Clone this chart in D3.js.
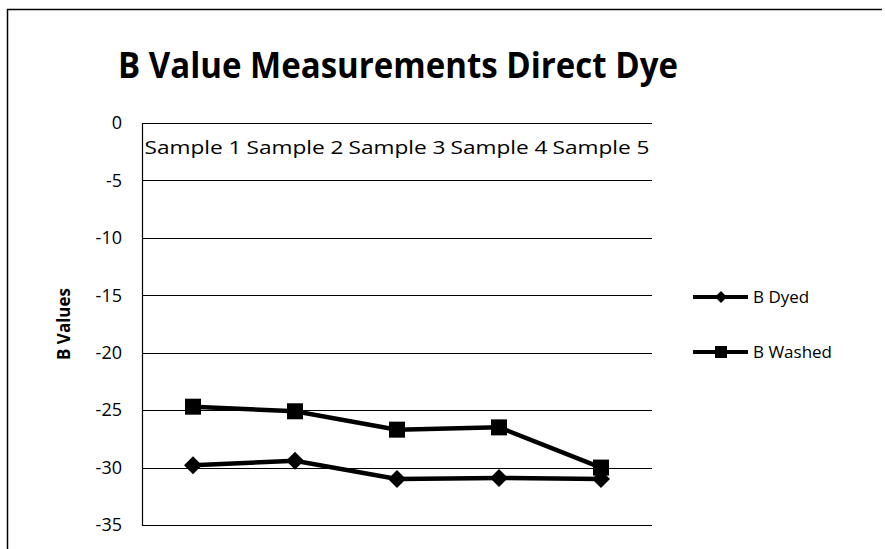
<!DOCTYPE html>
<html>
<head>
<meta charset="utf-8">
<script src="https://cdn.jsdelivr.net/npm/d3@7"></script>
<style>
  body { margin: 0; background: #fff; }
  svg { display: block; font-family: 'Open Sans', 'Noto Sans', sans-serif; }
</style>
</head>
<body>
<div id="chart"></div>
<script>
const categories = ['Sample 1', 'Sample 2', 'Sample 3', 'Sample 4', 'Sample 5'];
const bDyed = [-29.8, -29.4, -31.0, -30.9, -31.0];
const bWashed = [-24.7, -25.1, -26.7, -26.5, -30.0];
const yTicks = [0, -5, -10, -15, -20, -25, -30, -35];
const seriesNames = ['B Dyed', 'B Washed'];

const width = 885, height = 549;
const margin = { top: 123, right: 233, bottom: 24, left: 142 };

const svg = d3.select('#chart').append('svg')
  .attr('width', width)
  .attr('height', height);

// chart frame (top and left edges visible in the scan)
svg.append('path')
  .attr('d', `M7.5,${height} V9.5 H${width - 3}`)
  .attr('fill', 'none')
  .attr('stroke', '#000')
  .attr('stroke-width', 1.5);

svg.append('text')
  .attr('x', 398)
  .attr('y', 78)
  .attr('text-anchor', 'middle')
  .attr('font-size', 36)
  .attr('font-weight', 'bold')
  .attr('textLength', 560)
  .attr('lengthAdjust', 'spacingAndGlyphs')
  .text('B Value Measurements Direct Dye');

const x = d3.scaleBand()
  .domain(categories)
  .range([margin.left, width - margin.right]);

const y = d3.scaleLinear()
  .domain([0, -35])
  .range([margin.top, height - margin.bottom]);

// gridlines
svg.append('g')
  .selectAll('line')
  .data(yTicks)
  .enter().append('line')
  .attr('x1', margin.left)
  .attr('x2', width - margin.right)
  .attr('y1', d => Math.round(y(d)) + 0.5)
  .attr('y2', d => Math.round(y(d)) + 0.5)
  .attr('stroke', '#000')
  .attr('stroke-width', 1.2);

// y axis
svg.append('g')
  .attr('transform', `translate(${margin.left},0)`)
  .call(d3.axisLeft(y).tickValues(yTicks).tickSize(0).tickPadding(20).tickFormat(d => String(d)))
  .call(g => g.select('.domain').attr('stroke', '#000').attr('stroke-width', 1.2))
  .call(g => g.selectAll('.tick text').attr('fill', '#000').attr('font-size', 18).attr('font-family', "'Open Sans', sans-serif"));

// category axis at zero
svg.append('g')
  .attr('transform', `translate(0,${y(0)})`)
  .call(d3.axisBottom(x).tickSize(0).tickPadding(18))
  .call(g => g.select('.domain').remove())
  .call(g => g.selectAll('.tick text').attr('fill', '#000').attr('font-size', 18)
    .attr('font-family', "'Open Sans', sans-serif")
    .attr('textLength', 97).attr('lengthAdjust', 'spacingAndGlyphs'));

svg.append('text')
  .attr('transform', `translate(70,${(y(0) + y(-35)) / 2}) rotate(-90)`)
  .attr('text-anchor', 'middle')
  .attr('font-size', 17)
  .attr('font-weight', 'bold')
  .text('B Values');

const line = d3.line()
  .x((d, i) => x(categories[i]) + x.bandwidth() / 2)
  .y(d => y(d));

// Excel-style markers: diamond is a square turned 45 degrees
const diamond = s => `M0,${-s}L${s},0L0,${s}L${-s},0Z`;
const square = s => `M${-s},${-s}H${s}V${s}H${-s}Z`;

const series = [
  { name: seriesNames[0], values: bDyed, symbol: diamond, size: 9, legendSize: 6 },
  { name: seriesNames[1], values: bWashed, symbol: square, size: 8, legendSize: 6 }
];

series.forEach(s => {
  svg.append('path')
    .datum(s.values)
    .attr('d', line)
    .attr('fill', 'none')
    .attr('stroke', '#000')
    .attr('stroke-width', 4.5);
  svg.append('g')
    .selectAll('path')
    .data(s.values)
    .enter().append('path')
    .attr('transform', (d, i) => `translate(${x(categories[i]) + x.bandwidth() / 2},${y(d)})`)
    .attr('d', s.symbol(s.size))
    .attr('fill', '#000');
});

// legend
const legend = svg.append('g');
series.forEach((s, i) => {
  const ly = 297 + i * 55;
  legend.append('line')
    .attr('x1', 693).attr('x2', 748)
    .attr('y1', ly).attr('y2', ly)
    .attr('stroke', '#000').attr('stroke-width', 4);
  legend.append('path')
    .attr('transform', `translate(721,${ly})`)
    .attr('d', s.symbol(s.legendSize))
    .attr('fill', '#000');
  legend.append('text')
    .attr('x', 753).attr('y', ly + 6)
    .attr('font-size', 17)
    .text(s.name);
});
</script>
</body>
</html>
